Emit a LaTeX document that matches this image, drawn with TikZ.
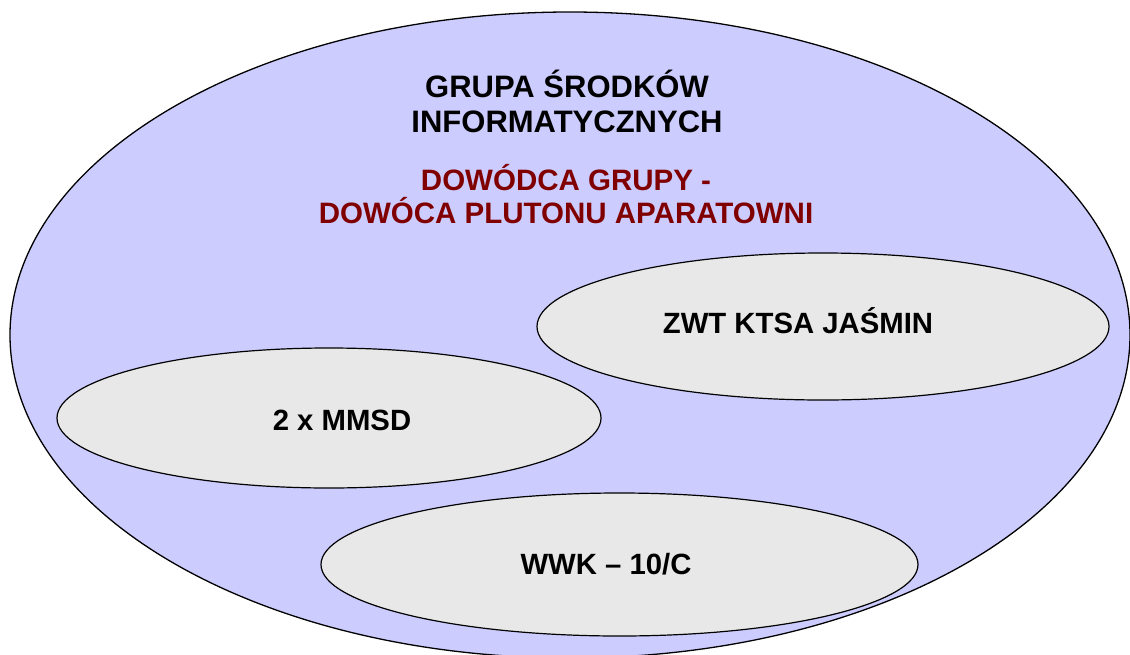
\documentclass[tikz,border=0pt]{standalone}
\usepackage{fontspec}
\setmainfont{Liberation Sans}
\usetikzlibrary{shapes.geometric}
\definecolor{bigfill}{HTML}{CCCCFF}
\definecolor{smallfill}{HTML}{E8E8E8}
\definecolor{maroon}{HTML}{800000}
\tikzset{
  bigoval/.style={ellipse, draw=black, line width=1.3pt, fill=bigfill, inner sep=0pt, outer sep=0pt},
  smalloval/.style={ellipse, draw=black, line width=1.2pt, fill=smallfill, inner sep=0pt, outer sep=0pt},
  titletext/.style={font=\fontsize{31}{35}\selectfont\bfseries, align=center, text=black, inner sep=0pt},
  redtext/.style={font=\fontsize{29.5}{33}\selectfont\bfseries, align=center, text=maroon, inner sep=0pt},
  ovaltext/.style={font=\fontsize{29.3}{33}\selectfont\bfseries, text=black, inner sep=0pt, anchor=base}
}
\begin{document}
\begin{tikzpicture}[x=1pt, y=-1pt]
\useasboundingbox (0,0) rectangle (1130,654);
\clip (0,0) rectangle (1130,654);
\node[bigoval, minimum width=1120pt, minimum height=646pt] (group) at (570,335) {};
\node[titletext, anchor=base] (title) at (567,132) {GRUPA ŚRODKÓW\\INFORMATYCZNYCH};
\node[redtext, anchor=base] (commander) at (566,223) {DOWÓDCA GRUPY -\\DOWÓCA PLUTONU APARATOWNI};
\node[smalloval, minimum width=572pt, minimum height=147pt] (zwt) at (823,326.5) {};
\node[smalloval, minimum width=544pt, minimum height=140pt] (mmsd) at (329,418) {};
\node[smalloval, minimum width=597pt, minimum height=143pt] (wwk) at (619.5,564.5) {};
\node[ovaltext] (zwtlabel) at (798,333) {ZWT KTSA JAŚMIN};
\node[ovaltext] (mmsdlabel) at (342,430) {2 x MMSD};
\node[ovaltext] (wwklabel) at (606,574) {WWK – 10/C};
\end{tikzpicture}
\end{document}
